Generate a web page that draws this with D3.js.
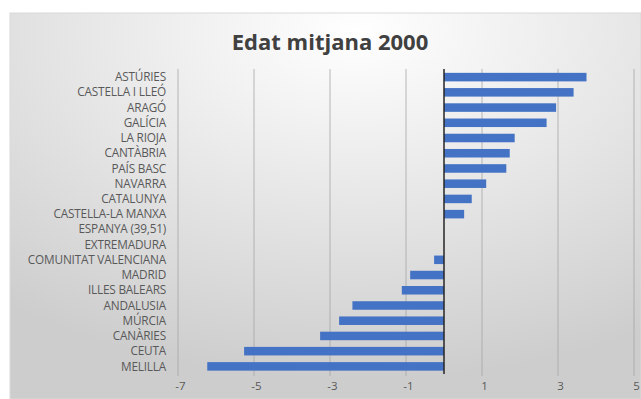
<!DOCTYPE html>
<html><head><meta charset="utf-8">
<script src="https://cdn.jsdelivr.net/npm/d3@7"></script>
<style>body{margin:0;background:#fff}svg{display:block}</style>
</head><body>
<script>
const categories = ["ASTÚRIES","CASTELLA I LLEÓ","ARAGÓ","GALÍCIA","LA RIOJA","CANTÀBRIA","PAÍS BASC","NAVARRA","CATALUNYA","CASTELLA-LA MANXA","ESPANYA (39,51)","EXTREMADURA","COMUNITAT VALENCIANA","MADRID","ILLES BALEARS","ANDALUSIA","MÚRCIA","CANÀRIES","CEUTA","MELILLA"];
const values = [3.75,3.41,2.95,2.70,1.86,1.73,1.64,1.11,0.73,0.53,0,0,-0.26,-0.89,-1.11,-2.41,-2.76,-3.26,-5.26,-6.23];
const tickValues = [-7,-5,-3,-1,1,3,5];
const title = "Edat mitjana 2000";

const W=641,H=399;
const svg=d3.select("body").append("svg").attr("width",W).attr("height",H);
const defs=svg.append("defs");
const g1=defs.append("radialGradient").attr("id","bg").attr("cx","55%").attr("cy","5%").attr("r","90%");
g1.append("stop").attr("offset","0%").attr("stop-color","#ffffff");
g1.append("stop").attr("offset","100%").attr("stop-color","#cdcdcd");
svg.append("rect").attr("x",10).attr("y",13).attr("width",W-10).attr("height",H-13).attr("fill","url(#bg)").attr("stroke","#d9d9d9");

const x=d3.scaleLinear().domain([-7,5]).range([178,634]);
const y=d3.scaleBand().domain(categories).range([69.5,374]).paddingInner(0.44).paddingOuter(0.22);

svg.append("text").attr("x",330).attr("y",50).attr("text-anchor","middle")
 .attr("font-family","'Open Sans',sans-serif").attr("font-size",22).attr("font-weight","bold").attr("fill","#404040").text(title);

// gridlines
svg.append("g").selectAll("line").data(tickValues).join("line")
 .attr("x1",d=>x(d)).attr("x2",d=>x(d)).attr("y1",69).attr("y2",376)
 .attr("stroke","#a6a6a6").attr("stroke-width",0.8);

// bars
svg.append("g").selectAll("rect").data(values).join("rect")
 .attr("x",d=>x(Math.min(0,d))).attr("width",d=>Math.abs(x(d)-x(0)))
 .attr("y",(d,i)=>y(categories[i])).attr("height",y.bandwidth())
 .attr("fill","#4472c4");

// zero axis
svg.append("line").attr("x1",x(0)).attr("x2",x(0)).attr("y1",69).attr("y2",374).attr("stroke","#262626").attr("stroke-width",1.5);

// category labels
svg.append("g").selectAll("text").data(categories).join("text")
 .attr("x",166).attr("y",d=>y(d)+y.bandwidth()/2).attr("dy","0.35em").attr("text-anchor","end")
 .attr("font-family","'Open Sans',sans-serif").attr("font-size",11.8).attr("letter-spacing",-0.2).attr("fill","#595959").text(d=>d);

// x axis labels
const xAxis=d3.axisBottom(x).tickValues(tickValues).tickSize(0).tickPadding(0).tickFormat(d=>String(d));
const ax=svg.append("g").attr("transform","translate(0,382)").call(xAxis);
ax.select(".domain").remove();
ax.selectAll("text").attr("font-family","'Open Sans',sans-serif").attr("font-size",11.5).attr("fill","#595959").attr("dy","0.71em").attr("x",2);
</script>
</body></html>
